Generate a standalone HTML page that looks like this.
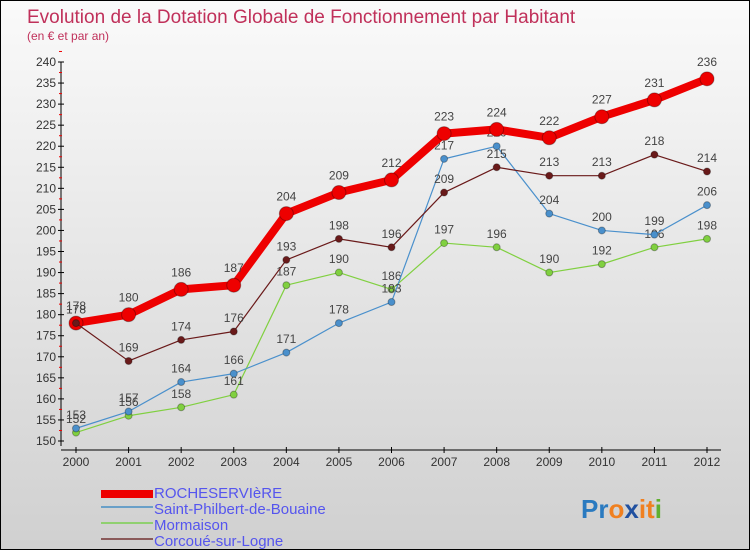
<!DOCTYPE html>
<html><head><meta charset="utf-8"><style>
body{margin:0}
#c{width:748px;height:548px;border:1px solid #000;background:linear-gradient(#fafafa,#d0d0d0);position:relative;font-family:"Liberation Sans",sans-serif;overflow:hidden}
</style></head><body>
<div id="c">
<svg id="s" width="748" height="548" xmlns="http://www.w3.org/2000/svg" style="position:absolute;left:0;top:0">
<text x="26" y="22" font-size="19" fill="#c0305a">Evolution de la Dotation Globale de Fonctionnement par Habitant</text>
<text x="26" y="39" font-size="12" fill="#c0305a">(en € et par an)</text>
<g id="g"></g>
<g font-size="15" fill="#5555ee">
<rect x="100" y="489" width="52" height="8" fill="#e00"/>
<text x="153" y="497">ROCHESERVIèRE</text>
<rect x="100" y="505" width="52" height="2" fill="#6aa0c8"/>
<text x="153" y="513">Saint-Philbert-de-Bouaine</text>
<rect x="100" y="521" width="52" height="2" fill="#90d070"/>
<text x="153" y="529">Mormaison</text>
<rect x="100" y="537" width="52" height="2" fill="#8a5a5a"/>
<text x="153" y="545">Corcoué-sur-Logne</text>
</g>
<text x="580" y="517" font-size="26" font-weight="bold"><tspan fill="#2a7ac0">Pr</tspan><tspan fill="#f08020">o</tspan><tspan fill="#2050a0">x</tspan><tspan fill="#f08020">it</tspan><tspan fill="#60b030">i</tspan></text>
</svg>
</div>
<script>
const years=[2000,2001,2002,2003,2004,2005,2006,2007,2008,2009,2010,2011,2012];
const yTicks=[150,155,160,165,170,175,180,185,190,195,200,205,210,215,220,225,230,235,240];
const roche=[178,180,186,187,204,209,212,223,224,222,227,231,236];
const saint=[153,157,164,166,171,178,183,217,220,204,200,199,206];
const morm=[152,156,158,161,187,190,186,197,196,190,192,196,198];
const corc=[178,169,174,176,193,198,196,209,215,213,213,218,214];
const NS="http://www.w3.org/2000/svg";
const g=document.getElementById('g');
const X=i=>75+i*(706-75)/(years.length-1);
const Y=v=>440-(v-150)*(440-61)/90;
function el(t,a,p){const e=document.createElementNS(NS,t);for(const k in a)e.setAttribute(k,a[k]);(p||g).appendChild(e);return e;}
const ax=el('line',{x1:60,y1:Y(240),x2:60,y2:445,stroke:'#000'});


const xa=el('line',{x1:60,y1:449,x2:720,y2:449,stroke:'#000'});


yTicks.forEach(v=>{
 el('line',{x1:57,x2:63,y1:Y(v),y2:Y(v),stroke:'#000'});
 el('line',{x1:58,x2:61,y1:Y(v+2.5),y2:Y(v+2.5),stroke:'#e00'});
 const t=el('text',{x:55,y:Y(v)+4,'font-size':12,'text-anchor':'end',fill:'#333'});t.textContent=v;
 
 
});
years.forEach((y,i)=>{
 el('line',{x1:X(i),x2:X(i),y1:446,y2:452,stroke:'#000'});
 const t=el('text',{x:X(i),y:465,'font-size':12,'text-anchor':'middle',fill:'#333'});t.textContent=y;
 
 
});
function series(d,color,w,r,name){
 const p=el('polyline',{points:d.map((v,i)=>X(i)+','+Y(v)).join(' '),fill:'none',stroke:color,'stroke-width':w,'stroke-linejoin':'round'});
 
 
 d.forEach((v,i)=>{
  const c=el('circle',{cx:X(i),cy:Y(v),r:r,fill:color,stroke:'rgba(0,0,0,0.3)'});
  
  
  const t=el('text',{x:X(i),y:Y(v)-(r+6),'font-size':12,'text-anchor':'middle',fill:'#444'});t.textContent=v;
  
  
 });
}
series(morm,'#80d040',1.2,3.5,'mormaison');
series(saint,'#4a90cc',1.2,3.5,'saint-philbert');
series(roche,'#ee0000',8,7,'rocheserviere');
series(corc,'#6a1a1a',1.2,3.5,'corcoue');
</script>
</body></html>
